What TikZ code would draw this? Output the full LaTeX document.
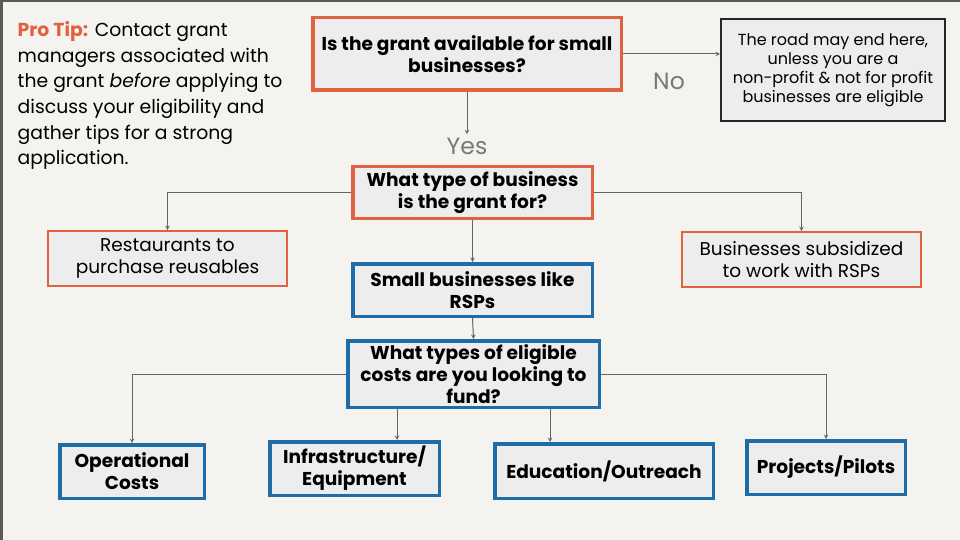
\documentclass[tikz,border=0pt]{standalone}
\usepackage{fontspec}
\setmainfont{Poppins}[BoldFont={Poppins Bold}]
\definecolor{grantOrange}{RGB}{224,98,62}
\definecolor{grantBlue}{RGB}{30,108,168}
\definecolor{grantFill}{RGB}{237,237,238}
\definecolor{grantBack}{RGB}{244,243,240}
\definecolor{grantLine}{RGB}{100,100,100}
\definecolor{grantLabel}{RGB}{120,120,120}
\begin{document}
\begin{tikzpicture}[x=1pt, y=-1pt,
    grantQBox/.style={draw=grantOrange, line width=3.5pt, fill=grantFill, inner sep=0pt, align=center, font=\fontsize{18.6}{22}\selectfont\bfseries},
    grantLeafBox/.style={draw=grantOrange, line width=1.8pt, fill=grantFill, inner sep=0pt, align=center, font=\fontsize{18.5}{22.5}\selectfont},
    grantFundBox/.style={draw=grantBlue, line width=3.5pt, fill=grantFill, inner sep=0pt, align=center, font=\fontsize{18.6}{22}\selectfont\bfseries},
    grantNoteBox/.style={draw=black!85, line width=1.8pt, fill=grantFill, inner sep=0pt, align=center, font=\fontsize{16}{19}\selectfont},
    grantLabel/.style={text=grantLabel, font=\fontsize{23.5}{26}\selectfont},
    grantArrow/.style={->, >=stealth, draw=grantLine, line width=1pt}]

    % Slide
    \useasboundingbox (0,0) rectangle (960,540);
    \fill[grantBack] (0,0) rectangle (960,540);
    \draw[black!65, line width=2.5pt] (1.25,540) -- (1.25,1.25) -- (960,1.25);

    % Tip
    \node[anchor=north west, align=left, inner sep=0pt, font=\fontsize{18.8}{25.6}\selectfont] (proTip) at (17.5,21.5)
        {{\color{grantOrange}\bfseries Pro Tip:} Contact grant\\
         managers associated with\\
         the grant \textit{before} applying to\\
         discuss your eligibility and\\
         gather tips for a strong\\
         application.};

    % Questions
    \node[grantQBox, minimum width=308.5pt, minimum height=72.5pt] (qSmall) at (467, 54)
        {Is the grant available for small\\businesses?};
    \node[grantNoteBox, minimum width=224pt, minimum height=102pt] (noteNo) at (833, 70)
        {The road may end here,\\unless you are a\\non-profit \& not for profit\\businesses are eligible};
    \node[grantLabel] (labelNo) at (669, 81) {No};
    \node[grantLabel] (labelYes) at (467, 146) {Yes};
    \node[grantQBox, minimum width=239.5pt, minimum height=51.5pt] (qType) at (472.5, 192.5)
        {What type of business\\is the grant for?};

    % Business types
    \node[grantLeafBox, minimum width=239pt, minimum height=55pt] (typeRest) at (167.5, 258.5)
        {Restaurants to\\purchase reusables};
    \node[grantLeafBox, minimum width=239pt, minimum height=55pt] (typeSub) at (801.5, 259.5)
        {Businesses subsidized\\to work with RSPs};
    \node[grantFundBox, minimum width=239.5pt, minimum height=52.5pt] (typeSmall) at (472.5, 290)
        {Small businesses like\\RSPs};

    % Costs
    \node[grantFundBox, minimum width=251.5pt, minimum height=66.5pt] (qCosts) at (473.5, 374)
        {What types of eligible\\costs are you looking to\\fund?};
    \node[grantFundBox, minimum width=144.5pt, minimum height=53.5pt] (costOp) at (132, 471.5)
        {Operational\\Costs};
    \node[grantFundBox, minimum width=169.5pt, minimum height=53.5pt] (costInfra) at (354.5, 468.5)
        {Infrastructure/\\Equipment};
    \node[grantFundBox, minimum width=218.5pt, minimum height=54.5pt] (costEdu) at (604, 471)
        {Education/Outreach};
    \node[grantFundBox, minimum width=158.5pt, minimum height=53.5pt] (costProj) at (826, 467.5)
        {Projects/Pilots};

    \draw[grantArrow] (qSmall.east) -- (qSmall.east -| noteNo.west);
    \draw[grantArrow] (qSmall.south) -- (labelYes.north);
    \draw[grantArrow] (qType.west) -| (typeRest.north);
    \draw[grantArrow] (qType.east) -| (typeSub.north);
    \draw[grantArrow] (qType.south) -- (typeSmall.north);
    \draw[grantArrow] (typeSmall.south) -- (qCosts.north);

    \draw[grantArrow] (qCosts.west) -| (costOp.north);
    \draw[grantArrow] ([xshift=-76.5pt]qCosts.south) -- ([xshift=42.5pt]costInfra.north);
    \draw[grantArrow] ([xshift=76.5pt]qCosts.south) -- ([xshift=-54pt]costEdu.north);
    \draw[grantArrow] (qCosts.east) -| (costProj.north);
\end{tikzpicture}
\end{document}
